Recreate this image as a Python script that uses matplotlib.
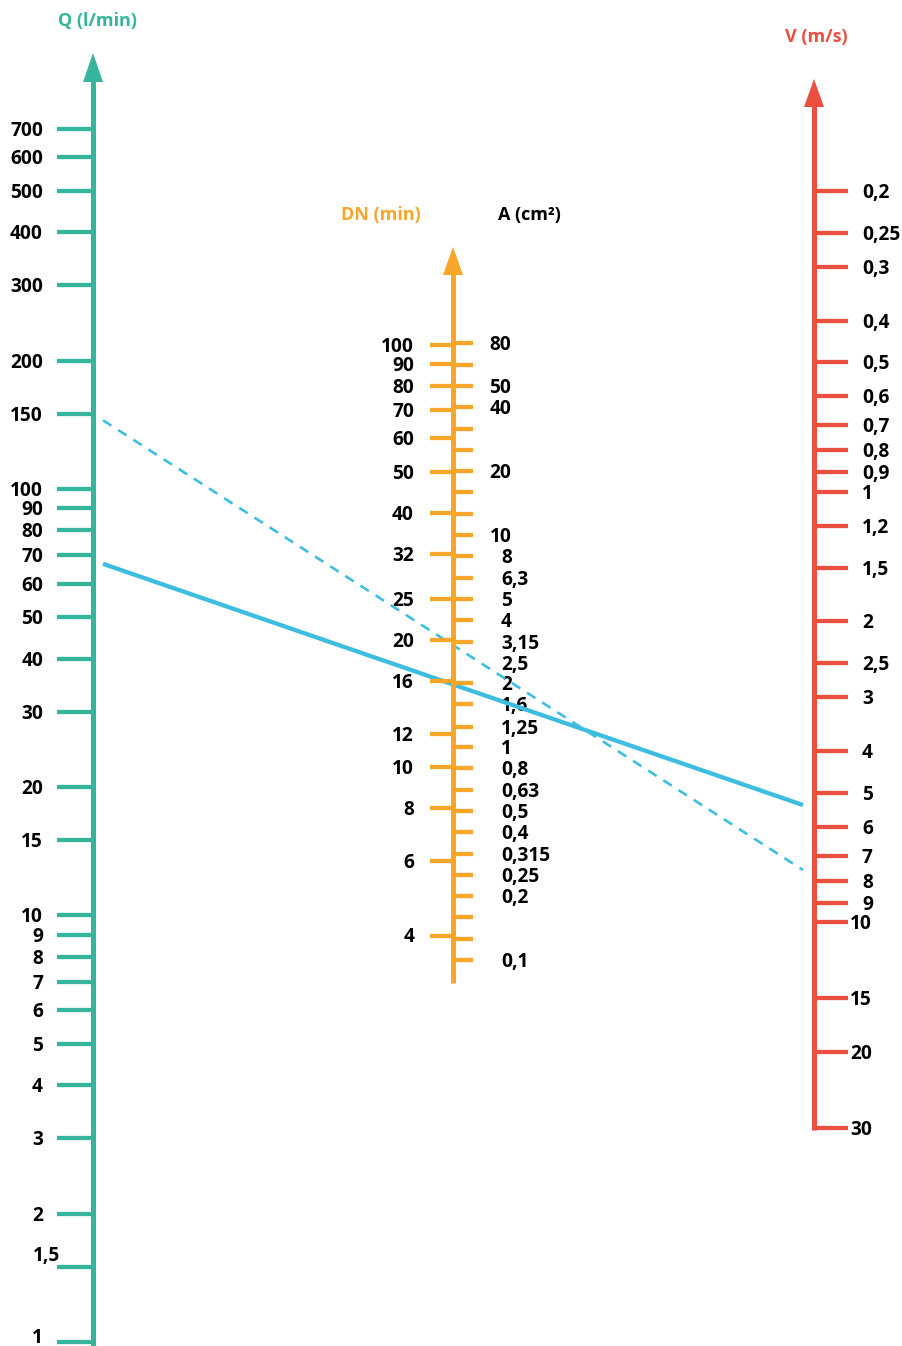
import numpy as np
import matplotlib
matplotlib.use("Agg")
import matplotlib.pyplot as plt
import matplotlib.transforms as mtransforms
import matplotlib.ticker as mticker
from matplotlib.patches import Polygon

# ---------------- data ----------------
q_values = [700, 600, 500, 400, 300, 200, 150, 100, 90, 80, 70, 60, 50, 40,
            30, 20, 15, 10, 9, 8, 7, 6, 5, 4, 3, 2, 1.5, 1]
dn_values = [100, 90, 80, 70, 60, 50, 40, 32, 25, 20, 16, 12, 10, 8, 6, 4]
a_ticks = [80, 63, 50, 40, 31.5, 25, 20, 16, 12.5, 10, 8, 6.3, 5, 4, 3.15,
           2, 1.6, 1.25, 1, 0.8, 0.63, 0.5, 0.4, 0.315, 0.25, 0.2, 0.16,
           0.125, 0.1]
a_labels = [80, 50, 40, 20, 10, 8, 6.3, 5, 4, 3.15, 2.5, 2, 1.6, 1.25, 1,
            0.8, 0.63, 0.5, 0.4, 0.315, 0.25, 0.2, 0.1]
v_values = [0.2, 0.25, 0.3, 0.4, 0.5, 0.6, 0.7, 0.8, 0.9, 1, 1.2, 1.5, 2,
            2.5, 3, 4, 5, 6, 7, 8, 9, 10, 15, 20, 30]
# example readings: flow Q (l/min) joined to velocity V (m/s)
example_q = [68, 150]
example_v = [5.45, 7.85]
example_style = ["solid", "dashed"]

# ---------------- style / layout ----------------
W, H = 902, 1346
PT = 0.72  # points per pixel at dpi 100
TEAL = "#35B59B"
ORANGE = "#F7A62A"
RED = "#E9503F"
BLUE = "#3DBDE0"
FONT = "Open Sans"
LBL_SIZE = 13.8

Q_ANCHORS = ((1, 1342.0), (700, 128.5))
DN_ANCHORS = ((100, 344.7), (4, 935.5))
A_ANCHORS = ((80, 343.0), (0.1, 960.0))
V_ANCHORS = ((0.2, 191.0), (30, 1127.7))


def fmt(v):
    return ("%g" % v).replace(".", ",")


def ylims(anchors):
    (v1, p1), (v2, p2) = anchors
    b = (np.log10(v2) - np.log10(v1)) / (p2 - p1)
    f = lambda p: 10 ** (np.log10(v1) + b * (p - p1))
    return f(H), f(0)


fig = plt.figure(figsize=(W / 100, H / 100), dpi=100)
bg = fig.add_axes([0, 0, 1, 1])
bg.set_xlim(0, W)
bg.set_ylim(H, 0)
bg.axis("off")


def make_axis(x_px, side, anchors, ticks, length_px, color):
    width = 20
    left = x_px if side == "left" else x_px - width
    ax = fig.add_axes([left / W, 0, width / W, 1])
    ax.set_yscale("log")
    ax.set_ylim(*ylims(anchors))
    ax.xaxis.set_visible(False)
    for s in ax.spines.values():
        s.set_visible(False)
    ax.patch.set_alpha(0)
    if side == "right":
        ax.yaxis.tick_right()
    ax.set_yticks(ticks)
    ax.yaxis.set_minor_locator(mticker.NullLocator())
    ax.tick_params(axis="y", which="major", direction="out",
                   length=length_px * PT, width=4.3 * PT, color=color,
                   labelleft=False, labelright=False)
    return ax


ax_q = make_axis(93, "left", Q_ANCHORS, q_values, 36, TEAL)
ax_dn = make_axis(453, "left", DN_ANCHORS, dn_values, 23, ORANGE)
ax_a = make_axis(453, "right", A_ANCHORS, a_ticks, 20, ORANGE)
ax_v = make_axis(814, "right", V_ANCHORS, v_values, 34, RED)


def put_labels(ax, values, x_px, ha, offsets=None, indent=None):
    offsets = offsets or {}
    for v in values:
        dx, dy = offsets.get(v, (0, 0))
        x = x_px
        if indent is not None and v in indent[0]:
            x = indent[1]
        tr = mtransforms.blended_transform_factory(bg.transData, ax.transData)
        tr = mtransforms.offset_copy(tr, fig=fig, x=dx, y=dy - 2, units="dots")
        bg.text(x, v, fmt(v), transform=tr, ha=ha, va="center",
                fontsize=LBL_SIZE, fontweight="bold", family=FONT,
                color="black", zorder=1)


put_labels(ax_q, q_values, 43, "right", offsets={1.5: (17, 13), 1: (0, 6)})
put_labels(ax_dn, dn_values, 414, "right")
put_labels(ax_a, a_labels, 501, "left", indent=([80, 50, 40, 20, 10], 489.5))
put_labels(ax_v, v_values, 862, "left", indent=([10, 15, 20, 30], 850))

# axis lines with arrow heads
for x, y0, y1, tip, col in [(93, H + 2, 80, 53, TEAL),
                            (453, 983, 273, 247, ORANGE),
                            (814, 1130, 105, 79, RED)]:
    bg.plot([x, x], [y0, y1], color=col, lw=5 * PT, solid_capstyle="butt",
            zorder=3)
    bg.add_patch(Polygon([(x - 10, y1 + 2), (x + 10, y1 + 2), (x, tip)],
                         closed=True, color=col, lw=0, zorder=3))

# example reading lines through the scales
inv = bg.transData.inverted()
for q, v, st in zip(example_q, example_v, example_style):
    p0 = inv.transform(ax_q.transData.transform((0, q)))
    p1 = inv.transform(ax_v.transData.transform((1, v)))
    t0 = (103 - p0[0]) / (p1[0] - p0[0])
    t1 = (803 - p0[0]) / (p1[0] - p0[0])
    xs = [p0[0] + t0 * (p1[0] - p0[0]), p0[0] + t1 * (p1[0] - p0[0])]
    ys = [p0[1] + t0 * (p1[1] - p0[1]), p0[1] + t1 * (p1[1] - p0[1])]
    if st == "solid":
        bg.plot(xs, ys, color=BLUE, lw=4.3 * PT, solid_capstyle="butt",
                zorder=2)
    else:
        bg.plot(xs, ys, color=BLUE, lw=2.6 * PT, dash_capstyle="butt",
                linestyle=(0, (10 / 2.6, 8 / 2.6)),
                zorder=2)

# titles
tkw = dict(ha="center", va="center", fontsize=13, fontweight="bold",
           family=FONT)
bg.text(97, 21, "Q (l/min)", color=TEAL, **tkw)
bg.text(380.5, 215, "DN (min)", color=ORANGE, **tkw)
bg.text(529, 215, "A (cm²)", color="black", **tkw)
bg.text(816, 37, "V (m/s)", color=RED, **tkw)

fig.savefig("out.png", dpi=100)
